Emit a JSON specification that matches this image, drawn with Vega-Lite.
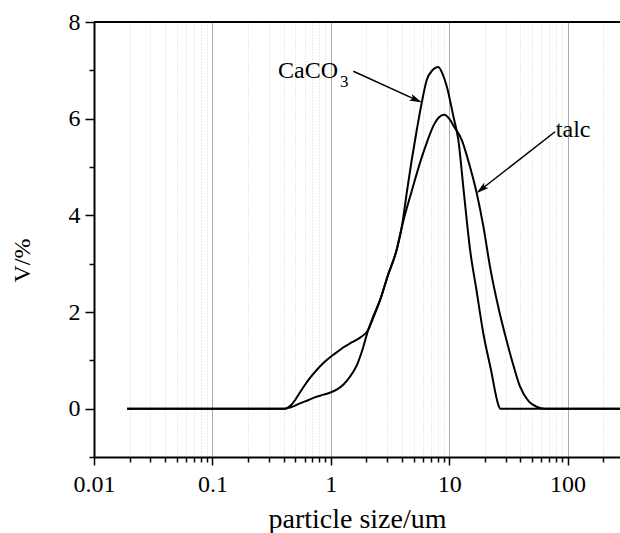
{
  "$schema": "https://vega.github.io/schema/vega-lite/v6.json",
  "width": 526,
  "height": 435,
  "autosize": {"type": "none"},
  "padding": {"left": 94, "top": 22, "right": 0, "bottom": 76},
  "background": "white",
  "config": {
    "view": {"stroke": null},
    "font": "Liberation Serif",
    "axis": {
      "domainColor": "black",
      "domainWidth": 2,
      "tickColor": "black",
      "tickWidth": 1.5,
      "labelFont": "Liberation Serif",
      "labelFontSize": 24,
      "labelColor": "black",
      "titleFont": "Liberation Serif",
      "titleFontSize": 24,
      "titleFontWeight": "normal",
      "titleColor": "black"
    }
  },
  "datasets": {
    "curves": [
      {"s": "CaCO3", "x": 0.019, "y": 0},
      {"s": "CaCO3", "x": 0.41, "y": 0},
      {"s": "CaCO3", "x": 0.46, "y": 0.03},
      {"s": "CaCO3", "x": 0.55, "y": 0.11},
      {"s": "CaCO3", "x": 0.65, "y": 0.18},
      {"s": "CaCO3", "x": 0.76, "y": 0.25},
      {"s": "CaCO3", "x": 0.87, "y": 0.29},
      {"s": "CaCO3", "x": 0.98, "y": 0.33},
      {"s": "CaCO3", "x": 1.13, "y": 0.4},
      {"s": "CaCO3", "x": 1.28, "y": 0.5},
      {"s": "CaCO3", "x": 1.45, "y": 0.66},
      {"s": "CaCO3", "x": 1.66, "y": 0.9},
      {"s": "CaCO3", "x": 1.85, "y": 1.22},
      {"s": "CaCO3", "x": 2.07, "y": 1.63},
      {"s": "CaCO3", "x": 2.3, "y": 1.93},
      {"s": "CaCO3", "x": 2.61, "y": 2.25},
      {"s": "CaCO3", "x": 3.0, "y": 2.72},
      {"s": "CaCO3", "x": 3.6, "y": 3.29},
      {"s": "CaCO3", "x": 3.98, "y": 3.76},
      {"s": "CaCO3", "x": 4.4, "y": 4.5},
      {"s": "CaCO3", "x": 4.82, "y": 5.14},
      {"s": "CaCO3", "x": 5.3, "y": 5.74},
      {"s": "CaCO3", "x": 5.86, "y": 6.33},
      {"s": "CaCO3", "x": 6.46, "y": 6.8},
      {"s": "CaCO3", "x": 7.2, "y": 7.0},
      {"s": "CaCO3", "x": 8.09, "y": 7.07},
      {"s": "CaCO3", "x": 8.8, "y": 6.92},
      {"s": "CaCO3", "x": 9.53, "y": 6.67},
      {"s": "CaCO3", "x": 10.84, "y": 6.05},
      {"s": "CaCO3", "x": 11.94, "y": 5.56},
      {"s": "CaCO3", "x": 13.3, "y": 4.47},
      {"s": "CaCO3", "x": 15.0, "y": 3.29},
      {"s": "CaCO3", "x": 17.0, "y": 2.45},
      {"s": "CaCO3", "x": 19.4, "y": 1.56},
      {"s": "CaCO3", "x": 22.5, "y": 0.81},
      {"s": "CaCO3", "x": 26.0, "y": 0.08},
      {"s": "CaCO3", "x": 26.9, "y": 0},
      {"s": "CaCO3", "x": 277, "y": 0},
      {"s": "talc", "x": 0.019, "y": 0},
      {"s": "talc", "x": 0.41, "y": 0},
      {"s": "talc", "x": 0.46, "y": 0.07},
      {"s": "talc", "x": 0.5, "y": 0.18},
      {"s": "talc", "x": 0.55, "y": 0.34},
      {"s": "talc", "x": 0.6, "y": 0.48},
      {"s": "talc", "x": 0.65, "y": 0.6},
      {"s": "talc", "x": 0.76, "y": 0.8},
      {"s": "talc", "x": 0.87, "y": 0.95},
      {"s": "talc", "x": 0.98, "y": 1.06},
      {"s": "talc", "x": 1.13, "y": 1.17},
      {"s": "talc", "x": 1.28, "y": 1.27},
      {"s": "talc", "x": 1.5, "y": 1.37},
      {"s": "talc", "x": 1.77, "y": 1.47},
      {"s": "talc", "x": 2.07, "y": 1.63},
      {"s": "talc", "x": 2.3, "y": 1.9},
      {"s": "talc", "x": 2.61, "y": 2.25},
      {"s": "talc", "x": 3.0, "y": 2.72},
      {"s": "talc", "x": 3.6, "y": 3.29},
      {"s": "talc", "x": 3.98, "y": 3.76},
      {"s": "talc", "x": 4.82, "y": 4.5},
      {"s": "talc", "x": 5.86, "y": 5.2},
      {"s": "talc", "x": 6.46, "y": 5.5},
      {"s": "talc", "x": 7.35, "y": 5.85},
      {"s": "talc", "x": 8.2, "y": 6.03},
      {"s": "talc", "x": 9.04, "y": 6.08},
      {"s": "talc", "x": 10.0, "y": 6.0},
      {"s": "talc", "x": 10.84, "y": 5.86},
      {"s": "talc", "x": 12.8, "y": 5.55},
      {"s": "talc", "x": 14.8, "y": 5.05},
      {"s": "talc", "x": 17.1, "y": 4.45},
      {"s": "talc", "x": 19.5, "y": 3.75},
      {"s": "talc", "x": 22.1, "y": 2.94},
      {"s": "talc", "x": 26.0, "y": 2.1},
      {"s": "talc", "x": 30.6, "y": 1.4},
      {"s": "talc", "x": 35.0, "y": 0.88},
      {"s": "talc", "x": 39.6, "y": 0.46},
      {"s": "talc", "x": 47.0, "y": 0.15},
      {"s": "talc", "x": 54.8, "y": 0.04},
      {"s": "talc", "x": 64.4, "y": 0},
      {"s": "talc", "x": 277, "y": 0}
    ],
    "labels": [
      {"t": "CaCO", "x": 0.358, "y": 6.85},
      {"t": "talc", "x": 79.5, "y": 5.625}
    ],
    "sub": [{"t": "3", "x": 1.197, "y": 6.66}],
    "arrows": [
      {"x": 1.55, "y": 6.98, "x2": 5.26, "y2": 6.39},
      {"x": 78.3, "y": 5.73, "x2": 18.7, "y2": 4.54}
    ],
    "head1": [{"x": 5.26, "y": 6.39}],
    "head2": [{"x": 18.7, "y": 4.54}]
  },
  "layer": [
    {
      "data": {"name": "curves"},
      "mark": {"type": "line", "color": "black", "strokeWidth": 2, "interpolate": "monotone"},
      "encoding": {
        "x": {
          "field": "x", "type": "quantitative",
          "scale": {"type": "log", "domain": [0.01, 277], "nice": false},
          "axis": {
            "title": "particle size/um",
            "titleFontSize": 28,
            "titleBaseline": "alphabetic",
            "titleY": 70,
            "values": [0.01,0.02,0.03,0.04,0.05,0.06,0.07,0.08,0.09,0.1,0.2,0.3,0.4,0.5,0.6,0.7,0.8,0.9,1,2,3,4,5,6,7,8,9,10,20,30,40,50,60,70,80,90,100,200],
            "format": "~g",
            "labelExpr": "indexof([0.01,0.1,1,10,100], datum.value) >= 0 ? datum.label : ''",
            "labelOverlap": false,
            "labelFlush": false,
            "labelBaseline": "alphabetic",
            "labelPadding": 26,
            "tickSize": {"condition": {"test": "indexof([0.01,0.1,1,10,100], datum.value) >= 0", "value": 8}, "value": 5},
            "grid": true,
            "gridColor": {"condition": {"test": "indexof([0.01,0.1,1,10,100], datum.value) >= 0", "value": "#aaaaaa"}, "value": "#d6d6d6"},
            "gridDash": {"condition": {"test": "indexof([0.01,0.1,1,10,100], datum.value) >= 0", "value": []}, "value": [1, 2]},
            "gridWidth": 1
          }
        },
        "y": {
          "field": "y", "type": "quantitative",
          "scale": {"domain": [-1, 8], "nice": false, "zero": false},
          "axis": {
            "title": "V/%",
            "titleX": -60,
            "titleY": 238,
            "values": [-1,0,1,2,3,4,5,6,7,8],
            "labelExpr": "datum.value >= 0 && datum.value % 2 == 0 ? datum.label : ''",
            "labelPadding": 5,
            "tickSize": {"condition": {"test": "datum.value % 2 == 0", "value": 9}, "value": 5},
            "grid": false
          }
        },
        "detail": {"field": "s"}
      }
    },
    {
      "data": {"values": [{}]},
      "mark": {"type": "rule", "color": "black", "strokeWidth": 2},
      "encoding": {"y": {"datum": 8, "type": "quantitative"}}
    },
    {
      "data": {"name": "arrows"},
      "mark": {"type": "rule", "color": "black", "strokeWidth": 1.5},
      "encoding": {
        "x": {"field": "x", "type": "quantitative"},
        "y": {"field": "y", "type": "quantitative"},
        "x2": {"field": "x2"},
        "y2": {"field": "y2"}
      }
    },
    {
      "data": {"name": "head1"},
      "mark": {"type": "point", "shape": "M1,0 L-1,-0.55 L-0.55,0 L-1,0.55 Z", "filled": true, "color": "black", "opacity": 1, "size": 160, "angle": 24},
      "encoding": {
        "x": {"field": "x", "type": "quantitative"},
        "y": {"field": "y", "type": "quantitative"}
      }
    },
    {
      "data": {"name": "head2"},
      "mark": {"type": "point", "shape": "M1,0 L-1,-0.55 L-0.55,0 L-1,0.55 Z", "filled": true, "color": "black", "opacity": 1, "size": 160, "angle": 142},
      "encoding": {
        "x": {"field": "x", "type": "quantitative"},
        "y": {"field": "y", "type": "quantitative"}
      }
    },
    {
      "data": {"name": "labels"},
      "mark": {"type": "text", "font": "Liberation Serif", "fontSize": 24, "color": "black", "align": "left", "baseline": "alphabetic"},
      "encoding": {
        "x": {"field": "x", "type": "quantitative"},
        "y": {"field": "y", "type": "quantitative"},
        "text": {"field": "t"}
      }
    },
    {
      "data": {"name": "sub"},
      "mark": {"type": "text", "font": "Liberation Serif", "fontSize": 17, "color": "black", "align": "left", "baseline": "alphabetic"},
      "encoding": {
        "x": {"field": "x", "type": "quantitative"},
        "y": {"field": "y", "type": "quantitative"},
        "text": {"field": "t"}
      }
    }
  ]
}
